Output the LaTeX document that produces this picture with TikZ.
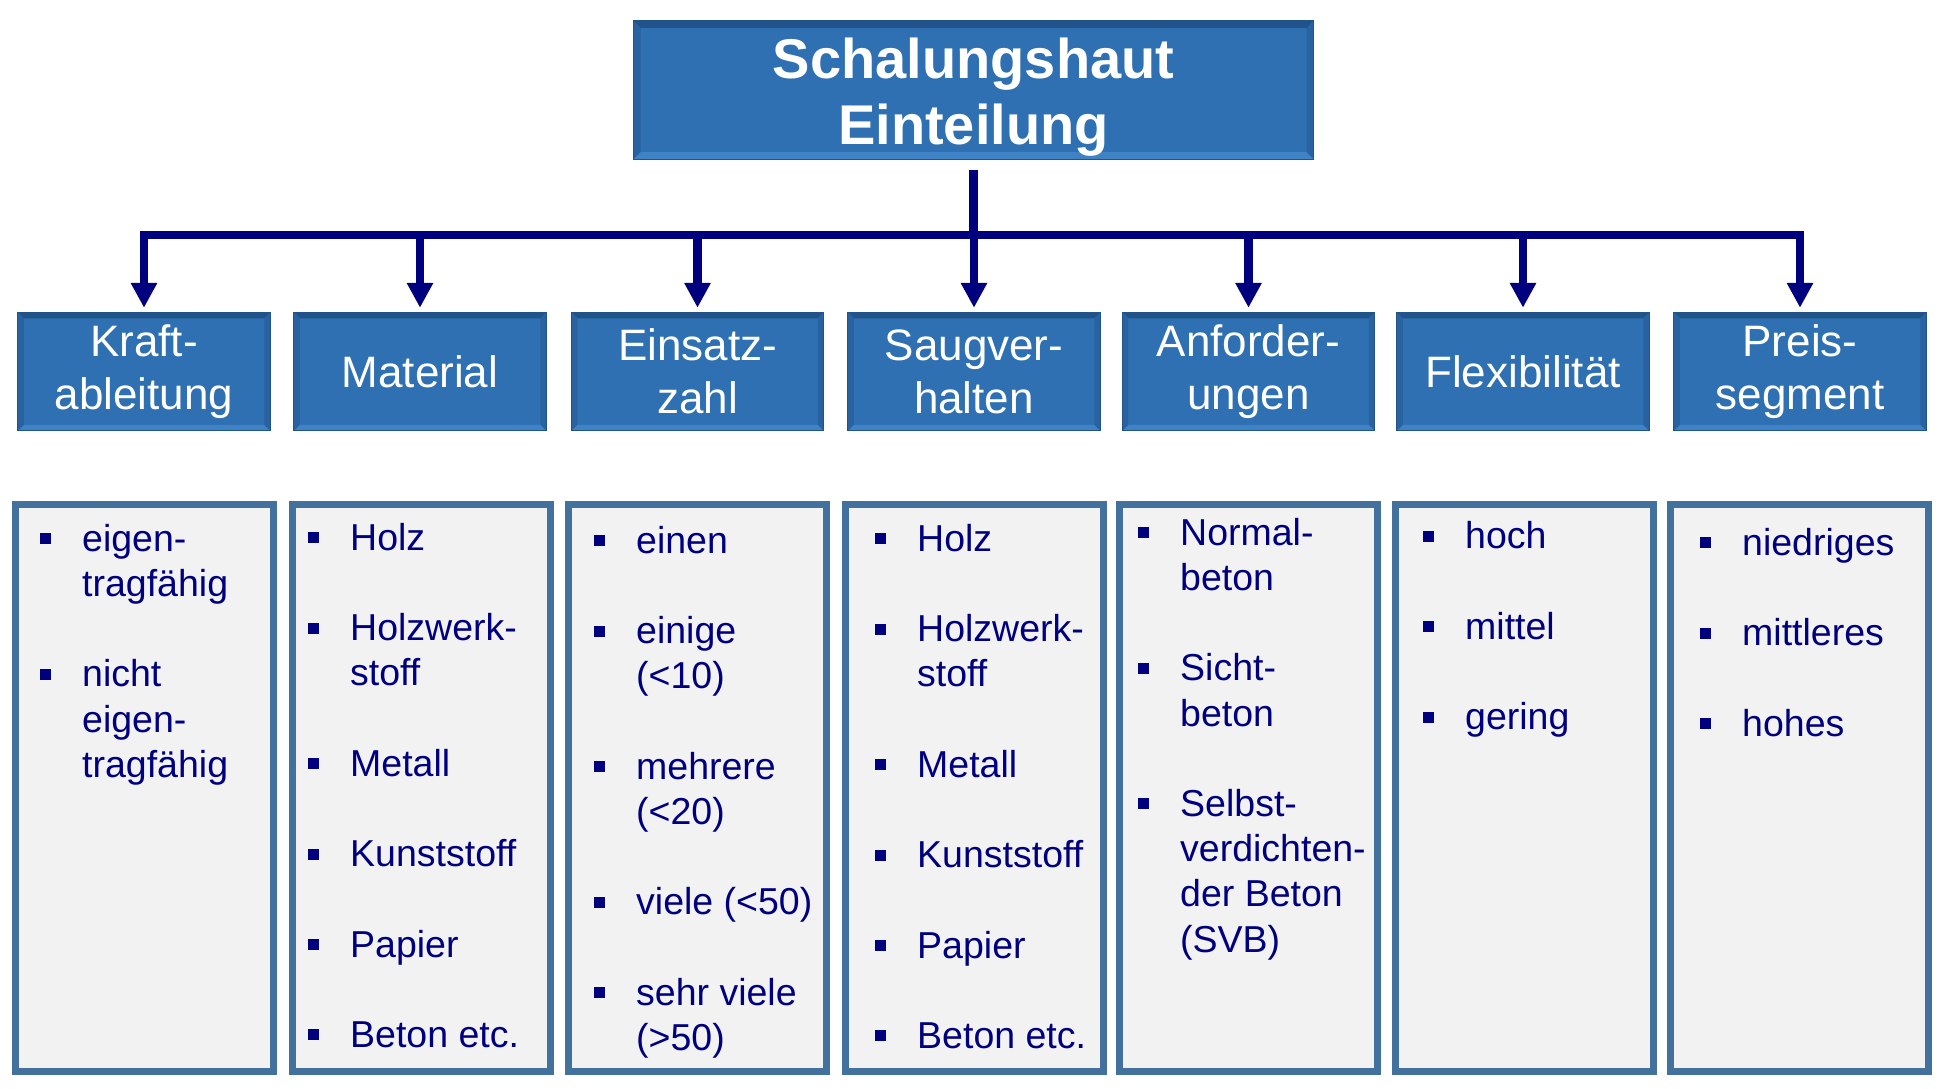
\documentclass[tikz,border=0pt]{standalone}
\usepackage{fontspec}
\setmainfont{Liberation Sans}
\usetikzlibrary{arrows.meta}
\definecolor{boxblue}{HTML}{2E70B1}
\definecolor{bevtop}{HTML}{21528A}
\definecolor{bevside}{HTML}{2962A0}
\definecolor{bevbot}{HTML}{3F82C6}
\definecolor{connblue}{HTML}{00007F}
\definecolor{listfill}{HTML}{F2F2F2}
\definecolor{listedge}{HTML}{41719C}
\definecolor{txtnavy}{HTML}{00007F}
\newcommand{\bul}{\makebox[42pt][l]{\rule[7pt]{11pt}{11pt}}}
\newcommand{\ind}{\hspace*{42pt}}
\begin{document}
\begin{tikzpicture}[x=1pt,y=-1pt,
  bevel/.style={path picture={
    \fill[bevtop] (path picture bounding box.north west) -- (path picture bounding box.north east)
      -- ([xshift=-#1,yshift=-#1]path picture bounding box.north east) -- ([xshift=#1,yshift=-#1]path picture bounding box.north west) -- cycle;
    \fill[bevbot] (path picture bounding box.south west) -- (path picture bounding box.south east)
      -- ([xshift=-#1,yshift=#1]path picture bounding box.south east) -- ([xshift=#1,yshift=#1]path picture bounding box.south west) -- cycle;
    \fill[bevside] (path picture bounding box.north west) -- ([xshift=#1,yshift=-#1]path picture bounding box.north west)
      -- ([xshift=#1,yshift=#1]path picture bounding box.south west) -- (path picture bounding box.south west) -- cycle;
    \fill[bevside] (path picture bounding box.north east) -- ([xshift=-#1,yshift=-#1]path picture bounding box.north east)
      -- ([xshift=-#1,yshift=#1]path picture bounding box.south east) -- (path picture bounding box.south east) -- cycle;
  }},
  titlebox/.style={fill=boxblue, bevel=7pt, draw=bevtop, line width=1pt, minimum width=680pt, minimum height=138pt, inner sep=0pt},
  titletext/.style={inner sep=0pt, text=white, font=\fontsize{56}{66}\selectfont\bfseries, align=center},
  hdrbox/.style={fill=boxblue, bevel=6pt, draw=bevtop, line width=1pt, minimum width=252.5pt, minimum height=118.5pt,
    inner sep=0pt, text=white, font=\fontsize{44}{53}\selectfont, align=center},
  listbox/.style={draw=listedge, line width=7pt, fill=listfill, minimum width=258pt, minimum height=567pt, inner sep=0pt},
  listtext/.style={anchor=north west, inner sep=0pt, text=txtnavy, align=left, font=\fontsize{37.5}{45.2}\selectfont},
  connline/.style={draw=connblue, line width=8.5pt},
  arr/.style={connline, -{Triangle[width=25pt,length=25pt]}}
]
\useasboundingbox[fill=white] (0,0) rectangle (1948,1089);

% title
\node[titlebox] (title) at (973.5,90) {};
\node[titletext] (titletxt) at (973.5,97) {Schalungshaut\\Einteilung};

% header boxes
\node[hdrbox] (h1) at (144,371.5) {Kraft-\\ableitung};
\node[hdrbox] (h2) at (420,371.5) {Material};
\node[hdrbox] (h3) at (697.5,371.5) {Einsatz-\\zahl};
\node[hdrbox] (h4) at (974,371.5) {Saugver-\\halten};
\node[hdrbox] (h5) at (1248.5,371.5) {Anforder-\\ungen};
\node[hdrbox] (h6) at (1523,371.5) {Flexibilität};
\node[hdrbox] (h7) at (1800,371.5) {Preis-\\segment};

% connectors
\coordinate (bar) at (974,235);
\draw[connline, shorten <=10pt] (title.south) -- (title.south |- bar);
\draw[connline, line cap=rect] (bar -| h1) -- (bar -| h7);
\foreach \i in {1,...,7}{
  \draw[arr] (bar -| h\i) -- ([yshift=4pt]h\i.north);
}

% list boxes
\node[listbox] (l1) at (144,788) {};
\node[listbox] (l2) at (421,788) {};
\node[listbox] (l3) at (697,788) {};
\node[listbox] (l4) at (974,788) {};
\node[listbox] (l5) at (1248.5,788) {};
\node[listbox] (l6) at (1524,788) {};
\node[listbox] (l7) at (1799,788) {};

% list texts
\node[listtext] (t1) at (40,519.4) {\bul\strut eigen-\\\ind tragfähig\\[45.2pt]\bul nicht\\\ind eigen-\\\ind tragfähig};
\node[listtext] (t2) at (308,518.4) {\bul\strut Holz\\[45.2pt]\bul Holzwerk-\\\ind stoff\\[45.2pt]\bul Metall\\[45.2pt]\bul Kunststoff\\[45.2pt]\bul Papier\\[45.2pt]\bul Beton etc.};
\node[listtext] (t3) at (594,521.4) {\bul\strut einen\\[45.2pt]\bul einige\\\ind (<10)\\[45.2pt]\bul mehrere\\\ind (<20)\\[45.2pt]\bul viele (<50)\\[45.2pt]\bul sehr viele\\\ind (>50)};
\node[listtext] (t4) at (875,519.4) {\bul\strut Holz\\[45.2pt]\bul Holzwerk-\\\ind stoff\\[45.2pt]\bul Metall\\[45.2pt]\bul Kunststoff\\[45.2pt]\bul Papier\\[45.2pt]\bul Beton etc.};
\node[listtext] (t5) at (1138,513.4) {\bul\strut Normal-\\\ind beton\\[45.2pt]\bul Sicht-\\\ind beton\\[45.2pt]\bul Selbst-\\\ind verdichten-\\\ind der Beton\\\ind (SVB)};
\node[listtext] (t6) at (1423,516.9) {\bul\strut hoch\\[45.2pt]\bul mittel\\[45.2pt]\bul gering};
\node[listtext] (t7) at (1700,523.4) {\bul\strut niedriges\\[45.2pt]\bul mittleres\\[45.2pt]\bul hohes};
\end{tikzpicture}
\end{document}
